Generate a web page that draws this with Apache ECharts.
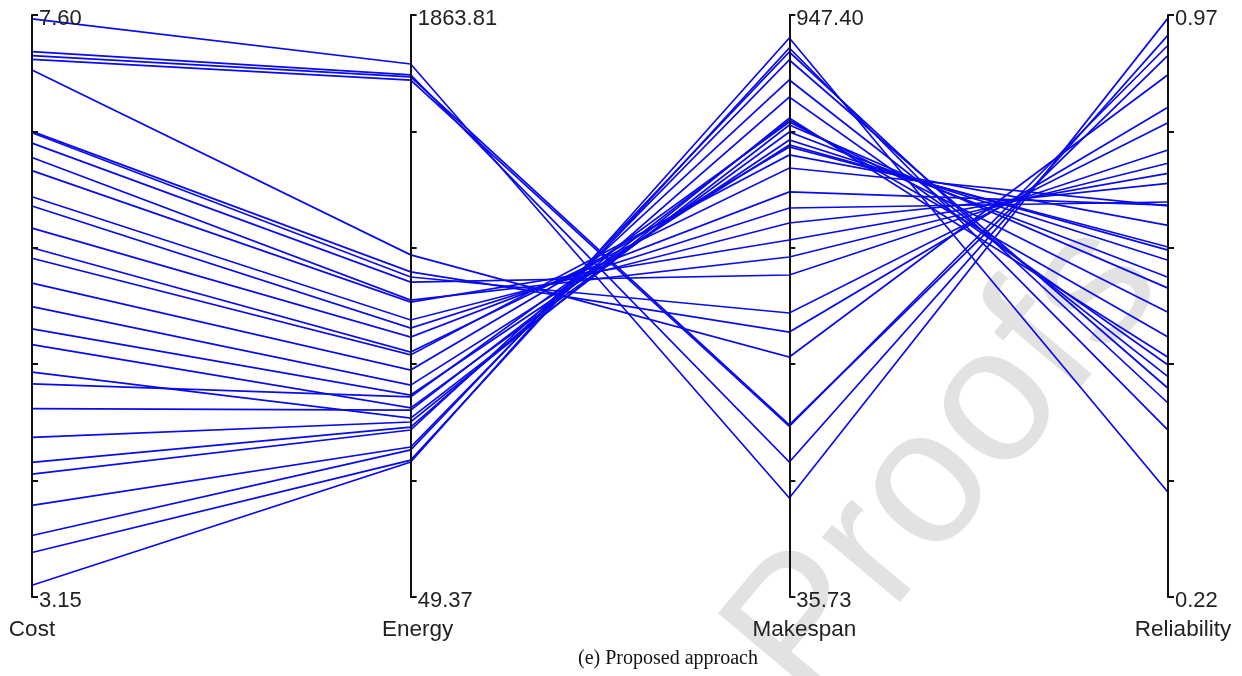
<!DOCTYPE html>
<html><head><meta charset="utf-8">
<script src="https://cdn.jsdelivr.net/npm/echarts@6/dist/echarts.min.js"></script>
<style>html,body{margin:0;padding:0;background:#fff}#c{width:1242px;height:676px}</style>
</head><body><div id="c"></div>
<script>
const dimensions = ['Cost', 'Energy', 'Makespan', 'Reliability'];
const cost = [7.57, 7.32, 7.29, 7.26, 7.18, 6.71, 6.70, 6.62, 6.51, 6.41, 6.21, 6.14, 5.97, 5.82, 5.74, 5.55, 5.37, 5.20, 5.08, 4.87, 4.78, 4.59, 4.37, 4.18, 4.09, 3.85, 3.62, 3.49, 3.24];
const energy = [1711, 1677, 1671, 1661, 1116, 1063, 1047, 1031, 975, 969, 913, 888, 860, 813, 804, 757, 710, 679, 639, 607, 673, 632, 595, 579, 570, 517, 508, 476, 470];
const makespan = [190.8, 247.2, 305.2, 303.0, 411.7, 450.8, 480.6, 540.1, 568.3, 594.9, 621.6, 645.1, 670.2, 707.7, 728.1, 740.6, 743.8, 751.6, 764.1, 775.1, 779.8, 783.0, 786.1, 818.9, 845.6, 876.9, 889.4, 895.7, 911.4];
const reliability = [0.966, 0.944, 0.918, 0.931, 0.893, 0.851, 0.831, 0.796, 0.779, 0.766, 0.753, 0.729, 0.725, 0.724, 0.699, 0.671, 0.667, 0.654, 0.632, 0.618, 0.587, 0.555, 0.529, 0.519, 0.504, 0.489, 0.470, 0.435, 0.355];
const axisMin = [3.15, 49.37, 35.73, 0.22];
const axisMax = [7.60, 1863.81, 947.40, 0.97];
const minLabels = ['3.15', '49.37', '35.73', '0.22'];
const maxLabels = ['7.60', '1863.81', '947.40', '0.97'];
const caption = '(e) Proposed approach';
const watermark = 'Proofs';

const namePad = [0, 14, 30, 30];
const rows = cost.map((c, i) => [c, energy[i], makespan[i], reliability[i]]);
const chart = echarts.init(document.getElementById('c'), null, {renderer: 'canvas'});
const box = {left: 32, right: 74, top: 15, bottom: 79, layout: 'horizontal'};
const axes = [];
dimensions.forEach((name, i) => {
  const iv = (axisMax[i] - axisMin[i]) / 5;
  axes.push({
    dim: i, parallelIndex: 0, name: name, min: axisMin[i], max: axisMax[i], interval: iv,
    nameLocation: 'start', nameGap: 21,
    nameTextStyle: {fontFamily: 'Liberation Sans', fontSize: 22.5, color: '#222', padding: [0, 0, 0, namePad[i]]},
    axisLine: {lineStyle: {color: '#111', width: 2}},
    axisTick: {show: true, length: 6, inside: false, lineStyle: {color: '#111', width: 2}},
    axisLabel: {
      show: true, margin: 7, color: '#222',
      rich: {t: {fontFamily: 'Liberation Sans', fontSize: 22, color: '#222', padding: [7, 0, 0, 0]}},
      formatter: v => Math.abs(v - axisMin[i]) < iv * 1e-3 ? '{t|' + minLabels[i] + '}' : (Math.abs(v - axisMax[i]) < iv * 1e-3 ? '{t|' + maxLabels[i] + '}' : '')
    },
    splitLine: {show: false}
  });
  axes.push({
    dim: i, parallelIndex: 1, min: axisMin[i], max: axisMax[i], interval: iv, name: '',
    axisLine: {show: false},
    axisTick: {show: true, length: 6, inside: true, lineStyle: {color: '#111', width: 2}},
    axisLabel: {show: false}, splitLine: {show: false}
  });
});

chart.setOption({
  backgroundColor: '#fff',
  animation: false,
  title: {text: caption, left: 573, top: 644, textStyle: {fontFamily: 'Liberation Serif', fontSize: 20, fontWeight: 'normal', color: '#111'}},
  graphic: [{type: 'text', x: 842, y: 738, rotation: 50 * Math.PI / 180, z: 0,
    style: {text: watermark, font: '192px "Liberation Sans"', fill: '#e2e2e2', align: 'left', verticalAlign: 'bottom'}}],
  parallel: [Object.assign({}, box), Object.assign({}, box)],
  parallelAxis: axes,
  series: [{
    type: 'parallel', parallelIndex: 0, silent: true, smooth: false, z: 5,
    lineStyle: {color: '#0a0aee', width: 1.7, opacity: 1},
    emphasis: {disabled: true},
    data: rows
  }]
});
</script></body></html>
